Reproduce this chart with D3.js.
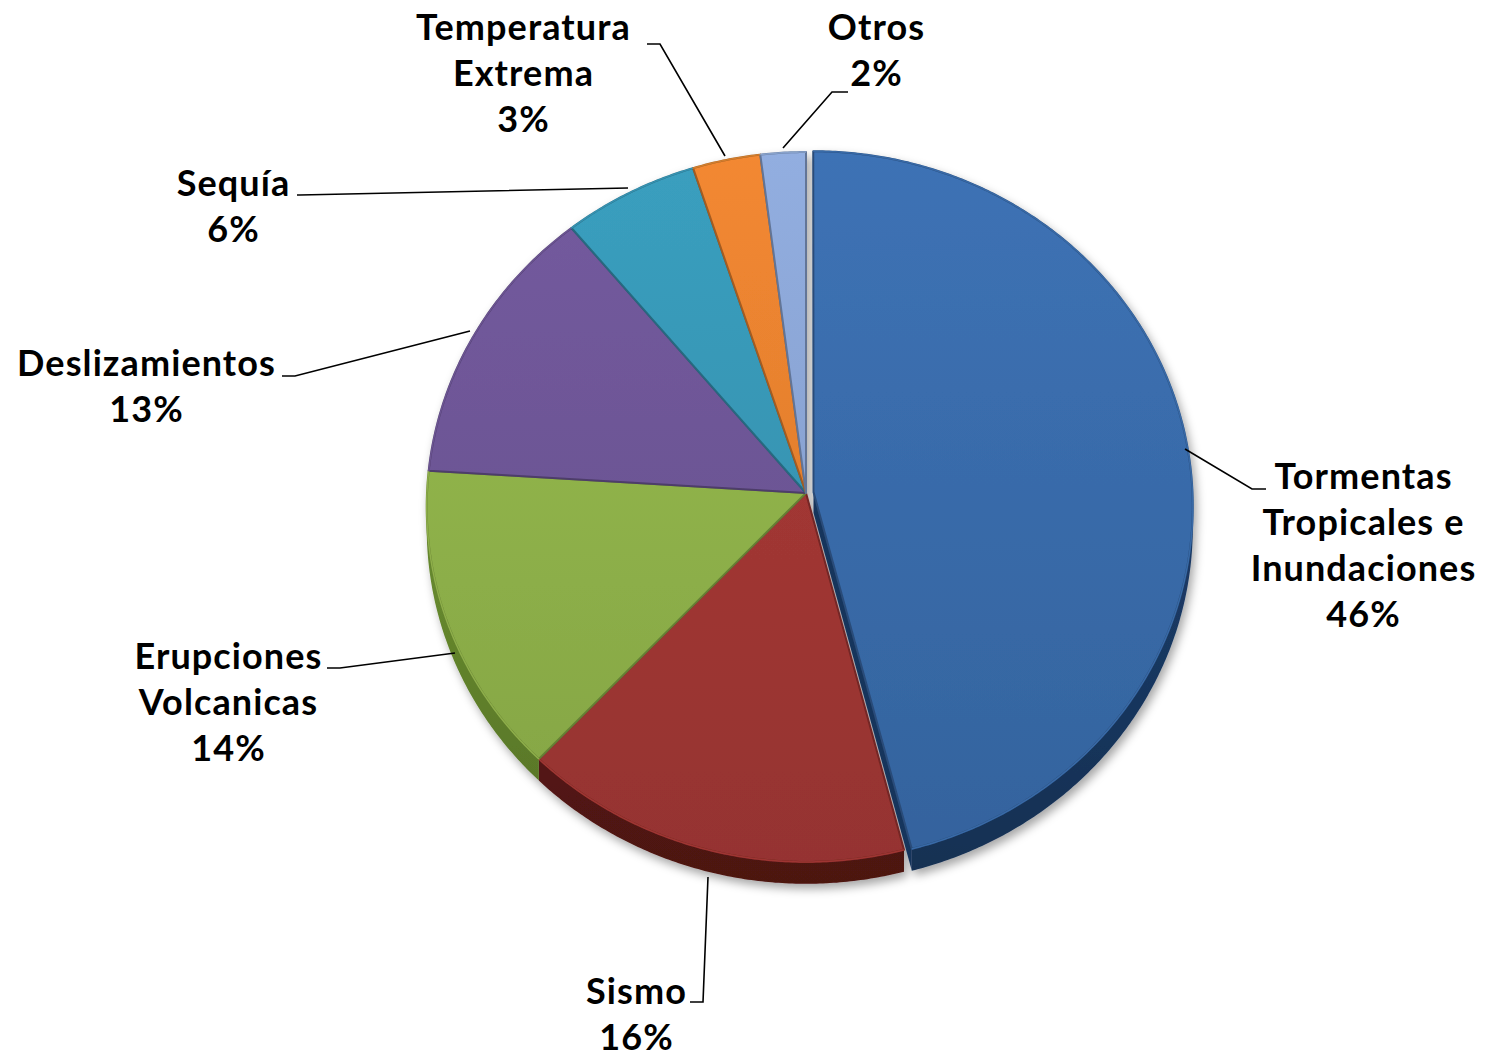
<!DOCTYPE html>
<html><head><meta charset="utf-8">
<script src="https://cdn.jsdelivr.net/npm/d3@7"></script>
<style>body{margin:0;background:#fff} svg{display:block}</style>
</head><body>
<svg id="chart" width="1486" height="1059"></svg>
<script>
// ---- data ----
const categories = ["Tormentas Tropicales e Inundaciones","Sismo","Erupciones Volcanicas","Deslizamientos","Sequía","Temperatura Extrema","Otros"];
const labelLines = [["Tormentas","Tropicales e","Inundaciones"],["Sismo"],["Erupciones","Volcanicas"],["Deslizamientos"],["Sequía"],["Temperatura","Extrema"],["Otros"]];
const values = [46,16,14,13,6,3,2];

// ---- style / layout ----
const topColors  = ["#3A6DAD","#A53835","#92B54B","#6F5798","#3898B7","#E9822F","#8CA7D7"];
const sideColors = ["#18355C","#561613","#5E7E2A","#3F2D62","#1F6077","#9A4E12","#566F9C"];
const explodeFrac = [0.02,0,0,0,0,0,0];
// label anchor (center x, first baseline) and leader polyline (pie point, elbow, end)
const labelLayout = [
  {x:1363,y:489, leader:[[1185,449],[1252,489],[1266,489]]},
  {x:636, y:1004,leader:[[708,877],[703,1002],[690,1002]]},
  {x:228, y:669, leader:[[455,653],[340,668],[327,668]]},
  {x:146, y:376, leader:[[470,331],[295,376],[282,376]]},
  {x:233, y:196, leader:[[628,188],[300,195],[297,195]]},
  {x:523, y:40,  leader:[[725,156],[660,44],[647,44]]},
  {x:876, y:40,  leader:[[783,148],[832,92],[848,92]]}
];
const cx=806, cy=493, A=379, B=354.4, U=0.0394, T=21;
const lineH=46;

const svg=d3.select("#chart");
const defs=svg.append("defs");
const f=defs.append("filter").attr("id","shadow").attr("x","-10%").attr("y","-10%").attr("width","130%").attr("height","130%");
f.append("feDropShadow").attr("dx",3).attr("dy",5).attr("stdDeviation",5).attr("flood-color","#000").attr("flood-opacity",0.35);

const pie=d3.pie().sort(null).value(d=>d)(values);

function proj(px,pz,h){ const w=1+U*pz; return [cx+A*px/w, cy-B*pz/w+T*h/w]; }
function pt(th,h,i){ const m=(pie[i].startAngle+pie[i].endAngle)/2, e=explodeFrac[i];
  return proj(Math.sin(th)+e*Math.sin(m), Math.cos(th)+e*Math.cos(m), h); }
function apex(h,i){ const m=(pie[i].startAngle+pie[i].endAngle)/2, e=explodeFrac[i];
  return proj(e*Math.sin(m), e*Math.cos(m), h); }
function arcPts(a0,a1,h,i){ const n=Math.max(2,Math.ceil((a1-a0)/(Math.PI/360))); const pts=[];
  for(let k=0;k<=n;k++){ pts.push(pt(a0+(a1-a0)*k/n,h,i)); } return pts; }
const line=d3.line();

// gradients
pie.forEach((p,i)=>{
  const g=defs.append("linearGradient").attr("id","gt"+i).attr("gradientUnits","userSpaceOnUse")
    .attr("x1",0).attr("y1",150).attr("x2",0).attr("y2",870);
  g.append("stop").attr("offset",0).attr("stop-color",d3.color(topColors[i]).brighter(0.12));
  g.append("stop").attr("offset",1).attr("stop-color",d3.color(topColors[i]).darker(0.28));
  const s=defs.append("linearGradient").attr("id","gs"+i).attr("gradientUnits","userSpaceOnUse")
    .attr("x1",0).attr("y1",600).attr("x2",0).attr("y2",890);
  s.append("stop").attr("offset",0).attr("stop-color",d3.color(sideColors[i]).brighter(0.2));
  s.append("stop").attr("offset",1).attr("stop-color",d3.color(sideColors[i]).darker(0.35));
});

const gPie=svg.append("g").attr("filter","url(#shadow)");

// outer walls (front half)
pie.forEach((p,i)=>{
  const a0=Math.max(p.startAngle,Math.PI/2), a1=Math.min(p.endAngle,3*Math.PI/2);
  if(a1<=a0) return;
  const topP=arcPts(a0,a1,0,i), botP=arcPts(a0,a1,1,i).reverse();
  gPie.append("path").attr("d",line(topP.concat(botP))+"Z").attr("fill","url(#gs"+i+")");
});
// radial face of exploded slices (end edge, facing viewer)
pie.forEach((p,i)=>{
  if(!explodeFrac[i]) return;
  const a=p.endAngle;
  const q=[apex(0,i),pt(a,0,i),pt(a,1,i),apex(1,i)];
  gPie.append("path").attr("d",line(q)+"Z").attr("fill",sideColors[i]);
});
// top faces
pie.forEach((p,i)=>{
  const pts=[apex(0,i)].concat(arcPts(p.startAngle,p.endAngle,0,i));
  gPie.append("path").attr("d",line(pts)+"Z").attr("fill","url(#gt"+i+")")
    .attr("stroke",d3.color(topColors[i]).darker(1.0)).attr("stroke-width",2).attr("stroke-linejoin","round");
});
// subtle highlight rim on outer edge
pie.forEach((p,i)=>{
  gPie.append("path").attr("d",line(arcPts(p.startAngle,p.endAngle,0,i)))
    .attr("fill","none").attr("stroke",d3.color(topColors[i]).brighter(0.6)).attr("stroke-opacity",0.5).attr("stroke-width",1.5);
});

// labels
const fmt=d=>d+"%";
pie.forEach((p,i)=>{
  const L=labelLayout[i];
  svg.append("path").attr("d",line(L.leader)).attr("fill","none").attr("stroke","#000").attr("stroke-width",1.6);
  const lines=labelLines[i].concat([fmt(values[i])]);
  const t=svg.append("text").attr("text-anchor","middle").attr("font-family","Lato, 'Open Sans', sans-serif")
    .attr("font-weight",700).attr("font-size",36).attr("letter-spacing",1.1).attr("fill","#000");
  lines.forEach((s,k)=>t.append("tspan").attr("x",L.x+0.5).attr("y",L.y+k*lineH).text(s));
});
</script>
</body></html>
